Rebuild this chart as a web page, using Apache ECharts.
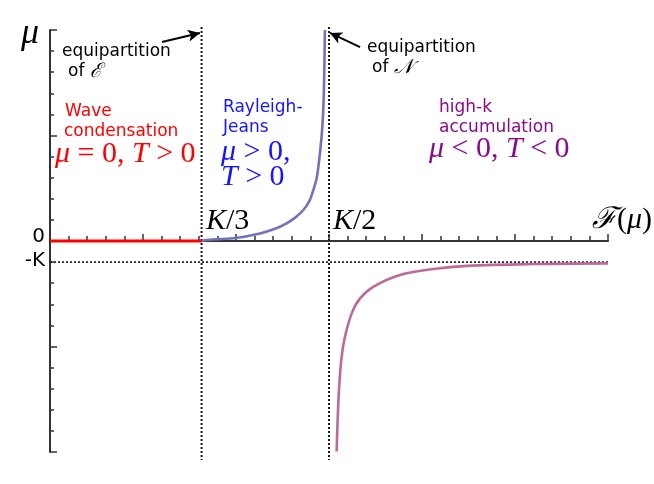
<!DOCTYPE html>
<html>
<head>
<meta charset="utf-8">
<script src="https://cdn.jsdelivr.net/npm/echarts@6/dist/echarts.min.js"></script>
<style>html,body{margin:0;padding:0;background:#fff;}#c{width:654px;height:484px;}</style>
</head>
<body>
<div id="c"></div>
<script>
// ---- data ----
const kThird = 8.15;      // position of K/3 on the F axis
const kHalf = 15.0;       // position of K/2 on the F axis
const minusK = -1;        // level of -K on the mu axis
const redX = [0, kThird];
const redY = [0, 0];
const blueX = [8.15, 8.42, 9.86, 11.29, 12.1, 12.72, 13.2, 13.62, 13.95, 14.16, 14.33, 14.43, 14.6, 14.68, 14.73, 14.78];
const blueY = [0, 0.05, 0.13, 0.36, 0.58, 0.84, 1.12, 1.47, 1.9, 2.42, 2.95, 3.52, 4.94, 6.0, 7.31, 10.0];
const pinkX = [15.41, 15.47, 15.56, 15.68, 15.86, 16.22, 16.67, 17.38, 18.82, 20.61, 22.4, 25.98, 30.0];
const pinkY = [-9.98, -8.33, -6.74, -5.48, -4.53, -3.43, -2.72, -2.17, -1.61, -1.33, -1.18, -1.09, -1.06];
const xRange = [0, 30];
const yRange = [-10, 10];
const vLineY = [10.14, -10.38];
const arrow1 = [[6.02, 9.43], [8.06, 9.86]];
const arrow2 = [[16.67, 9.19], [15.05, 9.86]];

const zip = (xs, ys) => xs.map((x, i) => [x, ys[i]]);

const SANS = '"DejaVu Sans"';
const SERIF = '"Liberation Serif"';
function txt(x, y, text, size, color, extra) {
  return {
    type: 'text', x: x, y: y, z: 100,
    style: Object.assign({
      text: text, fill: color, font: size + 'px ' + SANS,
      verticalAlign: 'middle', align: 'left'
    }, extra || {})
  };
}
function mathRich(color, size) {
  return {
    i: {fontFamily: 'Liberation Serif', fontStyle: 'italic', fontSize: size, fill: color, color: color},
    r: {fontFamily: 'Liberation Serif', fontSize: size, fill: color, color: color},
    s: {fontFamily: 'DejaVu Sans', fontSize: 17, fill: color, color: color},
    c: {fontFamily: 'DejaVu Serif', fontStyle: 'italic', fontSize: 20, fill: color, color: color}
  };
}

const chart = echarts.init(document.getElementById('c'), null, {renderer: 'canvas'});
const axisColor = '#333';
const dash = {color: '#1a1a1a', width: 2, type: [2, 2]};
chart.setOption({
  animation: false,
  grid: [
    {left: 50, right: 46, top: 30, bottom: 32},
    {left: 50, right: 46, top: 27, bottom: 24}
  ],
  xAxis: [
    {gridIndex: 0, type: 'value', min: xRange[0], max: xRange[1], interval: 5,
     axisLine: {show: true, onZero: true, lineStyle: {color: axisColor, width: 2}},
     axisTick: {show: true, inside: true, length: 7, lineStyle: {color: axisColor, width: 1.5}},
     minorTick: {show: true, splitNumber: 5, length: 5, lineStyle: {color: axisColor, width: 1.5}},
     axisLabel: {show: false}, splitLine: {show: false}},
    {gridIndex: 1, type: 'value', min: xRange[0], max: xRange[1], show: false}
  ],
  yAxis: [
    {gridIndex: 0, type: 'value', min: yRange[0], max: yRange[1], interval: 5,
     axisLine: {show: true, onZero: false, lineStyle: {color: axisColor, width: 2}},
     axisTick: {show: true, inside: true, length: 7, lineStyle: {color: axisColor, width: 1.5}},
     minorTick: {show: true, splitNumber: 5, length: 4, lineStyle: {color: axisColor, width: 1.5}},
     axisLabel: {show: false}, splitLine: {show: false}},
    {gridIndex: 1, type: 'value', min: vLineY[1], max: vLineY[0], show: false}
  ],
  series: [
    {type: 'line', xAxisIndex: 1, yAxisIndex: 1, data: [[kThird, vLineY[0]], [kThird, vLineY[1]]],
     symbol: 'none', lineStyle: dash, z: 3},
    {type: 'line', xAxisIndex: 1, yAxisIndex: 1, data: [[kHalf, vLineY[0]], [kHalf, vLineY[1]]],
     symbol: 'none', lineStyle: dash, z: 3,
     markLine: {silent: true, symbol: ['none', 'arrow'], symbolSize: [9, 12],
       lineStyle: {color: '#000', width: 2, type: 'solid'}, label: {show: false},
       data: [
         [{coord: arrow1[0]}, {coord: arrow1[1]}],
         [{coord: arrow2[0]}, {coord: arrow2[1]}]
       ]}},
    {type: 'line', data: [[xRange[0], minusK], [xRange[1], minusK]], symbol: 'none',
     lineStyle: {color: '#111', width: 1.6, type: [2, 2]}, z: 3},
    {type: 'line', data: zip(redX, redY), symbol: 'none', clip: false,
     lineStyle: {color: '#ff0000', width: 3}, z: 5},
    {type: 'line', data: zip(blueX, blueY), symbol: 'none', clip: false, smooth: 0.35,
     lineStyle: {color: '#7373bd', width: 2.6}, z: 4},
    {type: 'line', data: zip(pinkX, pinkY), symbol: 'none', clip: false, smooth: 0.35,
     lineStyle: {color: '#bd6a9a', width: 2.6}, z: 4}
  ],
  graphic: [
    txt(21, 34, 'μ', 36, '#000', {font: 'italic 36px ' + SERIF}),
    txt(62, 52, 'equipartition', 17, '#000'),
    txt(68, 72, '{s|of }{c|ℰ}', 17, '#000', {rich: mathRich('#000', 21)}),
    txt(65, 112, 'Wave', 17, '#ff0000'),
    txt(64, 132, 'condensation', 17, '#ff0000'),
    txt(55, 154, '{i|μ}{r| = 0, }{i|T}{r| > 0}', 30, '#ff0000', {rich: mathRich('#ff0000', 30)}),
    txt(223, 108, 'Rayleigh-', 17, '#1414ff'),
    txt(223, 128, 'Jeans', 17, '#1414ff'),
    txt(221, 152, '{i|μ}{r| > 0,}', 30, '#1414ff', {rich: mathRich('#1414ff', 30)}),
    txt(221, 177, '{i|T}{r| > 0}', 30, '#1414ff', {rich: mathRich('#1414ff', 30)}),
    txt(367, 48, 'equipartition', 17, '#000'),
    txt(372, 68, '{s|of }{c|𝒩}', 17, '#000', {rich: mathRich('#000', 21)}),
    txt(439, 108, 'high-k', 17, '#8a0a8a'),
    txt(439, 128, 'accumulation', 17, '#8a0a8a'),
    txt(429, 149, '{i|μ}{r| < 0, }{i|T}{r| < 0}', 30, '#8a0a8a', {rich: mathRich('#8a0a8a', 30)}),
    txt(45, 237, '0', 20, '#000', {align: 'right'}),
    txt(45, 261, '-K', 20, '#000', {align: 'right'}),
    txt(206, 221, '{i|K}{r|/3}', 30, '#000', {rich: mathRich('#000', 30)}),
    txt(333, 221, '{i|K}{r|/2}', 30, '#000', {rich: mathRich('#000', 30)}),
    txt(592, 220, '{i|ℱ}{r|(}{i|μ}{r|)}', 30, '#000', {rich: mathRich('#000', 30)})
  ]
});
</script>
</body>
</html>
